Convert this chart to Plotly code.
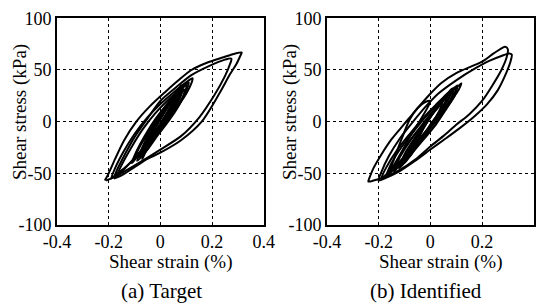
import plotly.graph_objects as go

# ---------------- data ----------------
x_ticks = [-0.4, -0.2, 0, 0.2, 0.4]
x_tick_labels = ["-0.4", "-0.2", "0", "0.2", "0.4"]
y_ticks = [-100, -50, 0, 50, 100]
y_tick_labels = ["-100", "-50", "0", "50", "100"]

# (a) Target: hysteresis loops, shear strain (%) / shear stress (kPa)
target_strain = [
    [-0.215, -0.20, -0.175, -0.14, -0.093, -0.04, 0.02, 0.07, 0.12, 0.18, 0.24, 0.29, 0.315, 0.31, 0.295, 0.27, 0.23, 0.16, 0.08, 0.0, -0.05, -0.10, -0.15, -0.18],
    [-0.18, -0.17, -0.14, -0.10, -0.05, 0.0, 0.06, 0.12, 0.19, 0.25, 0.275, 0.27, 0.25, 0.21, 0.15, 0.08, 0.0, -0.07, -0.13, -0.18, -0.21],
    [-0.19, -0.175, -0.14, -0.10, -0.05, 0.0, 0.05, 0.10, 0.125, 0.12, 0.10, 0.06, 0.02, -0.03, -0.08, -0.13, -0.17, -0.19],
    [-0.17, -0.15, -0.11, -0.07, -0.02, 0.03, 0.08, 0.11, 0.105, 0.08, 0.04, 0.0, -0.05, -0.10, -0.14, -0.17],
    [-0.09, -0.07, -0.04, 0.0, 0.04, 0.08, 0.10, 0.095, 0.07, 0.03, -0.01, -0.05, -0.09],
    [-0.08, -0.06, -0.03, 0.01, 0.05, 0.085, 0.08, 0.05, 0.01, -0.03, -0.065, -0.08],
    [-0.06, -0.045, -0.015, 0.02, 0.05, 0.07, 0.065, 0.04, 0.0, -0.035, -0.06],
    [-0.10, -0.08, -0.05, -0.01, 0.03, 0.07, 0.095, 0.09, 0.06, 0.02, -0.02, -0.06, -0.10],
    [-0.05, -0.03, 0.0, 0.03, 0.05, 0.045, 0.02, -0.01, -0.035, -0.05],
    [-0.07, -0.05, -0.02, 0.02, 0.06, 0.08, 0.075, 0.05, 0.02, -0.02, -0.05, -0.07],
    [-0.11, -0.09, -0.06, -0.02, 0.02, 0.06, 0.085, 0.075, 0.04, 0.0, -0.04, -0.08, -0.11],
]
target_stress = [
    [-57, -50, -36, -18, 0, 15, 29, 40, 50, 57, 62, 66, 67, 64, 56, 46, 28, 0, -18, -30, -36, -44, -52, -55],
    [-55, -48, -33, -15, 3, 20, 33, 45, 54, 60, 61, 56, 44, 26, 4, -14, -27, -38, -47, -54, -57],
    [-55, -45, -28, -12, 4, 17, 28, 38, 42, 37, 27, 12, -2, -17, -31, -43, -51, -55],
    [-53, -42, -24, -8, 8, 21, 32, 38, 33, 20, 6, -7, -21, -35, -46, -53],
    [-38, -25, -10, 6, 20, 31, 35, 28, 15, 0, -13, -27, -38],
    [-34, -22, -8, 8, 22, 33, 26, 12, -3, -17, -29, -34],
    [-30, -18, -4, 11, 23, 30, 23, 10, -6, -20, -30],
    [-35, -24, -12, 3, 16, 26, 31, 25, 13, -1, -14, -26, -35],
    [-22, -10, 4, 15, 22, 16, 5, -7, -16, -22],
    [-36, -24, -10, 6, 24, 35, 29, 17, 4, -11, -25, -36],
    [-40, -28, -14, 2, 15, 27, 33, 24, 10, -4, -17, -30, -40],
]

# (b) Identified
identified_strain = [
    [-0.24, -0.235, -0.22, -0.19, -0.15, -0.10, -0.06, 0.0, 0.04, 0.10, 0.20, 0.245, 0.29, 0.30, 0.295, 0.275, 0.24, 0.20, 0.15, 0.10, 0.05, 0.0, -0.06, -0.12, -0.18, -0.22, -0.24],
    [-0.20, -0.19, -0.16, -0.12, -0.07, -0.02, 0.03, 0.10, 0.17, 0.23, 0.28, 0.305, 0.315, 0.31, 0.29, 0.26, 0.22, 0.17, 0.11, 0.05, 0.0, -0.06, -0.12, -0.17, -0.20],
    [-0.16, -0.14, -0.11, -0.08, -0.05, -0.02, 0.0, -0.01, -0.04, -0.08, -0.12, -0.16],
    [-0.19, -0.17, -0.13, -0.08, -0.03, 0.02, 0.07, 0.11, 0.12, 0.11, 0.08, 0.04, 0.0, -0.05, -0.10, -0.15, -0.19],
    [-0.17, -0.15, -0.11, -0.06, -0.01, 0.04, 0.08, 0.105, 0.10, 0.07, 0.03, -0.02, -0.07, -0.12, -0.17],
    [-0.12, -0.10, -0.06, -0.02, 0.03, 0.07, 0.10, 0.095, 0.06, 0.02, -0.03, -0.08, -0.12],
    [-0.10, -0.08, -0.05, -0.01, 0.03, 0.07, 0.085, 0.07, 0.035, -0.005, -0.05, -0.10],
    [-0.08, -0.06, -0.03, 0.01, 0.04, 0.065, 0.06, 0.03, -0.01, -0.05, -0.08],
    [-0.14, -0.12, -0.08, -0.04, 0.0, 0.05, 0.09, 0.08, 0.04, 0.0, -0.05, -0.10, -0.14],
    [-0.06, -0.04, -0.01, 0.02, 0.045, 0.04, 0.015, -0.015, -0.04, -0.06],
]
identified_stress = [
    [-58, -54, -45, -32, -17, -2, 10, 27, 37, 47, 58, 66, 72.5, 70, 62, 50, 35, 20, 7, -3, -14, -24, -37, -47, -54, -57, -58],
    [-57, -49, -33, -17, -1, 14, 27, 40, 51, 59, 64, 66, 65, 58, 45, 30, 17, 5, -7, -18, -27, -38, -48, -54, -57],
    [-50, -36, -16, 2, 13, 19, 20, 14, 1, -15, -33, -50],
    [-55, -44, -28, -12, 3, 16, 28, 35, 37, 31, 20, 6, -6, -20, -34, -46, -55],
    [-53, -40, -24, -8, 7, 20, 30, 35, 30, 18, 4, -10, -25, -40, -53],
    [-45, -32, -16, -1, 14, 26, 33, 26, 12, -3, -18, -33, -45],
    [-40, -27, -13, 2, 16, 28, 32, 22, 9, -5, -22, -40],
    [-34, -21, -7, 8, 19, 27, 20, 7, -8, -22, -34],
    [-48, -35, -19, -6, 7, 21, 31, 22, 8, -5, -20, -36, -48],
    [-26, -13, 1, 12, 20, 13, 1, -11, -20, -26],
]

panel_captions = ["(a) Target", "(b) Identified"]
x_title = "Shear strain (%)"
y_title = "Shear stress (kPa)"

# ---------------- figure ----------------
FONT = "Liberation Serif, Times New Roman, Times, DejaVu Serif, serif"
fig = go.Figure()

for axis_id, (sx, sy) in zip(["", "2"], [(target_strain, target_stress), (identified_strain, identified_stress)]):
    for i, (lx, ly) in enumerate(zip(sx, sy)):
        fig.add_trace(go.Scatter(
            x=lx, y=ly, mode="lines",
            line=dict(color="black", width=2.0 if i < 5 else 2.4, shape="spline", smoothing=0.8),
            xaxis="x" + axis_id, yaxis="y" + axis_id, showlegend=False, hoverinfo="skip",
        ))

W, H = 543, 306
dom_x1 = [57 / W, 263.7 / W]
dom_x2 = [327 / W, 533.7 / W]
dom_y = [1 - 225 / H, 1 - 18.3 / H]

common_x = dict(range=[-0.4, 0.4], tickvals=x_ticks, ticktext=x_tick_labels,
                showgrid=True, gridcolor="black", griddash="dot", gridwidth=1,
                zeroline=False, showline=True, linecolor="black", linewidth=1.6, mirror=True,
                ticks="", automargin=False,
                tickfont=dict(family=FONT, size=18, color="black"))
common_y = dict(range=[-100, 100], tickvals=y_ticks, ticktext=y_tick_labels,
                showgrid=True, gridcolor="black", griddash="dot", gridwidth=1,
                zeroline=False, showline=True, linecolor="black", linewidth=1.6, mirror=True,
                ticks="", automargin=False, ticklabelstandoff=0,
                tickfont=dict(family=FONT, size=18, color="black"))

title_font = dict(family=FONT, size=19, color="black")
cap_font = dict(family=FONT, size=21, color="black")
annotations = []
for cx, ycx, cap_x, cap in [(171, 20, 161, panel_captions[0]), (440, 290, 426, panel_captions[1])]:
    annotations.append(dict(text=x_title, x=cx / W, y=1 - 262 / H, xref="paper", yref="paper",
                            showarrow=False, font=title_font, xanchor="center", yanchor="middle"))
    annotations.append(dict(text=y_title, x=ycx / W, y=1 - 112 / H, xref="paper", yref="paper",
                            showarrow=False, font=title_font, textangle=-90,
                            xanchor="center", yanchor="middle"))
    annotations.append(dict(text=cap, x=cap_x / W, y=1 - 291 / H, xref="paper", yref="paper",
                            showarrow=False, font=cap_font, xanchor="center", yanchor="middle"))

fig.update_layout(
    width=W, height=H,
    margin=dict(l=0, r=0, t=0, b=0),
    paper_bgcolor="white", plot_bgcolor="white",
    font=dict(family=FONT, color="black"),
    xaxis=dict(domain=dom_x1, anchor="y", **common_x),
    yaxis=dict(domain=dom_y, anchor="x", **common_y),
    xaxis2=dict(domain=dom_x2, anchor="y2", **common_x),
    yaxis2=dict(domain=dom_y, anchor="x2", **common_y),
    annotations=annotations,
)

fig.write_html("out.html", config={"displayModeBar": False},
               post_script="document.body.style.margin='0';document.body.style.padding='0';document.body.style.overflow='hidden';")
